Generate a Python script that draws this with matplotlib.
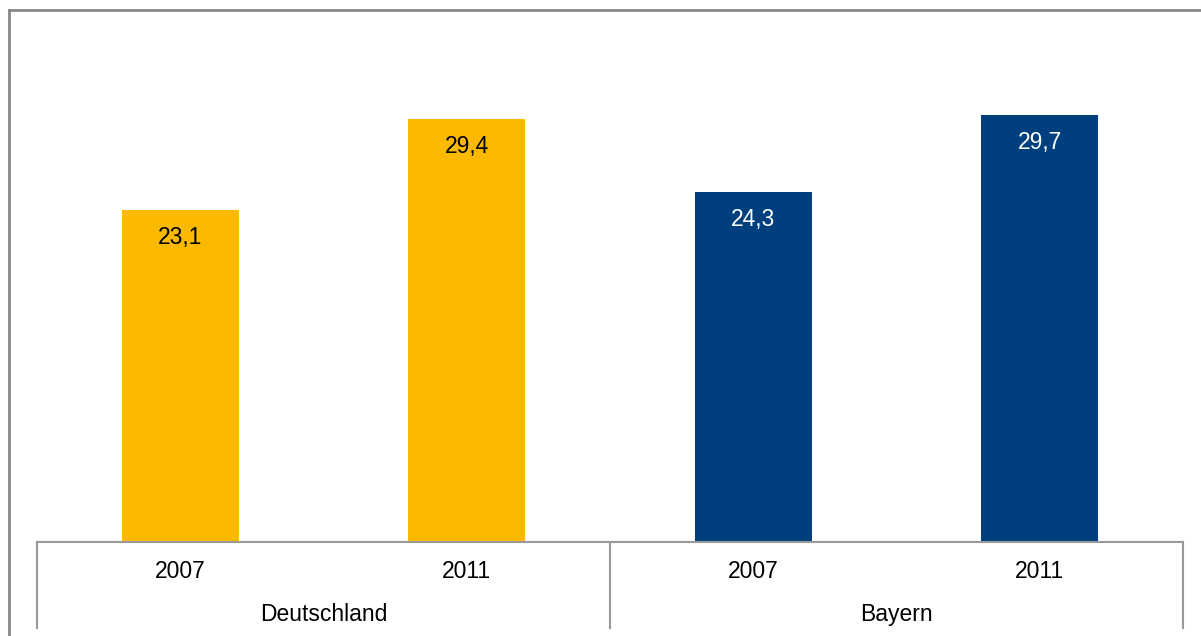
import matplotlib
matplotlib.use("Agg")
import matplotlib.pyplot as plt
from matplotlib.lines import Line2D
from matplotlib.transforms import blended_transform_factory

plt.rcParams['font.family'] = ['Liberation Sans', 'DejaVu Sans']

groups = ["Deutschland", "Bayern"]
years = ["2007", "2011", "2007", "2011"]
values = [23.1, 29.4, 24.3, 29.7]
labels = ["23,1", "29,4", "24,3", "29,7"]
colors = ["#FBB900", "#FBB900", "#003F7D", "#003F7D"]
label_colors = ["black", "black", "white", "white"]

W, H = 1201, 636
FS = 16.5
fig = plt.figure(figsize=(W / 100, H / 100), dpi=100)

x0, x1 = 37, 1183
ybase = 542
ytop = 38.3
ax = fig.add_axes([x0 / W, (H - ybase) / H, (x1 - x0) / W, (ybase - ytop) / H])
xs = list(range(len(values)))
ax.bar(xs, values, width=0.41, color=colors)
ax.set_xlim(-0.5, len(values) - 0.5)
ax.set_ylim(0, 35)
for s in ["top", "right", "left"]:
    ax.spines[s].set_visible(False)
ax.spines["bottom"].set_color("#999999")
ax.spines["bottom"].set_linewidth(1.5)
ax.set_yticks([])
ax.set_xticks(xs)
ax.set_xticklabels([])
ax.tick_params(axis='x', length=0)

tr = blended_transform_factory(ax.transData, fig.transFigure)

for x, y in zip(xs, years):
    ax.text(x, (H - 578) / H, y, transform=tr, ha="center", va="baseline", fontsize=FS)

for x, v, lab, c in zip(xs, values, labels, label_colors):
    ax.annotate(lab, (x, v), xytext=(0, -34), textcoords="offset pixels",
                ha="center", va="baseline", fontsize=FS, color=c)

ybot = (H - 628) / H
ylow = (H - ybase) / H
for xv in [-0.5, 1.5, 3.5]:
    fig.add_artist(Line2D([xv, xv], [ylow, ybot], transform=tr, color="#999999", lw=1.5))
for i, g in enumerate(groups):
    ax.text(2 * i + 0.5, (H - 621) / H, g, transform=tr, ha="center", va="baseline", fontsize=FS)

# outer frame (left and top edges visible)
fig.add_artist(Line2D([8.5 / W, 8.5 / W], [0, 1 - 9.5 / H], transform=fig.transFigure, color="#888888", lw=2))
fig.add_artist(Line2D([8.5 / W, 1], [1 - 9.5 / H, 1 - 9.5 / H], transform=fig.transFigure, color="#888888", lw=2))

fig.savefig("out.png", dpi=100)
